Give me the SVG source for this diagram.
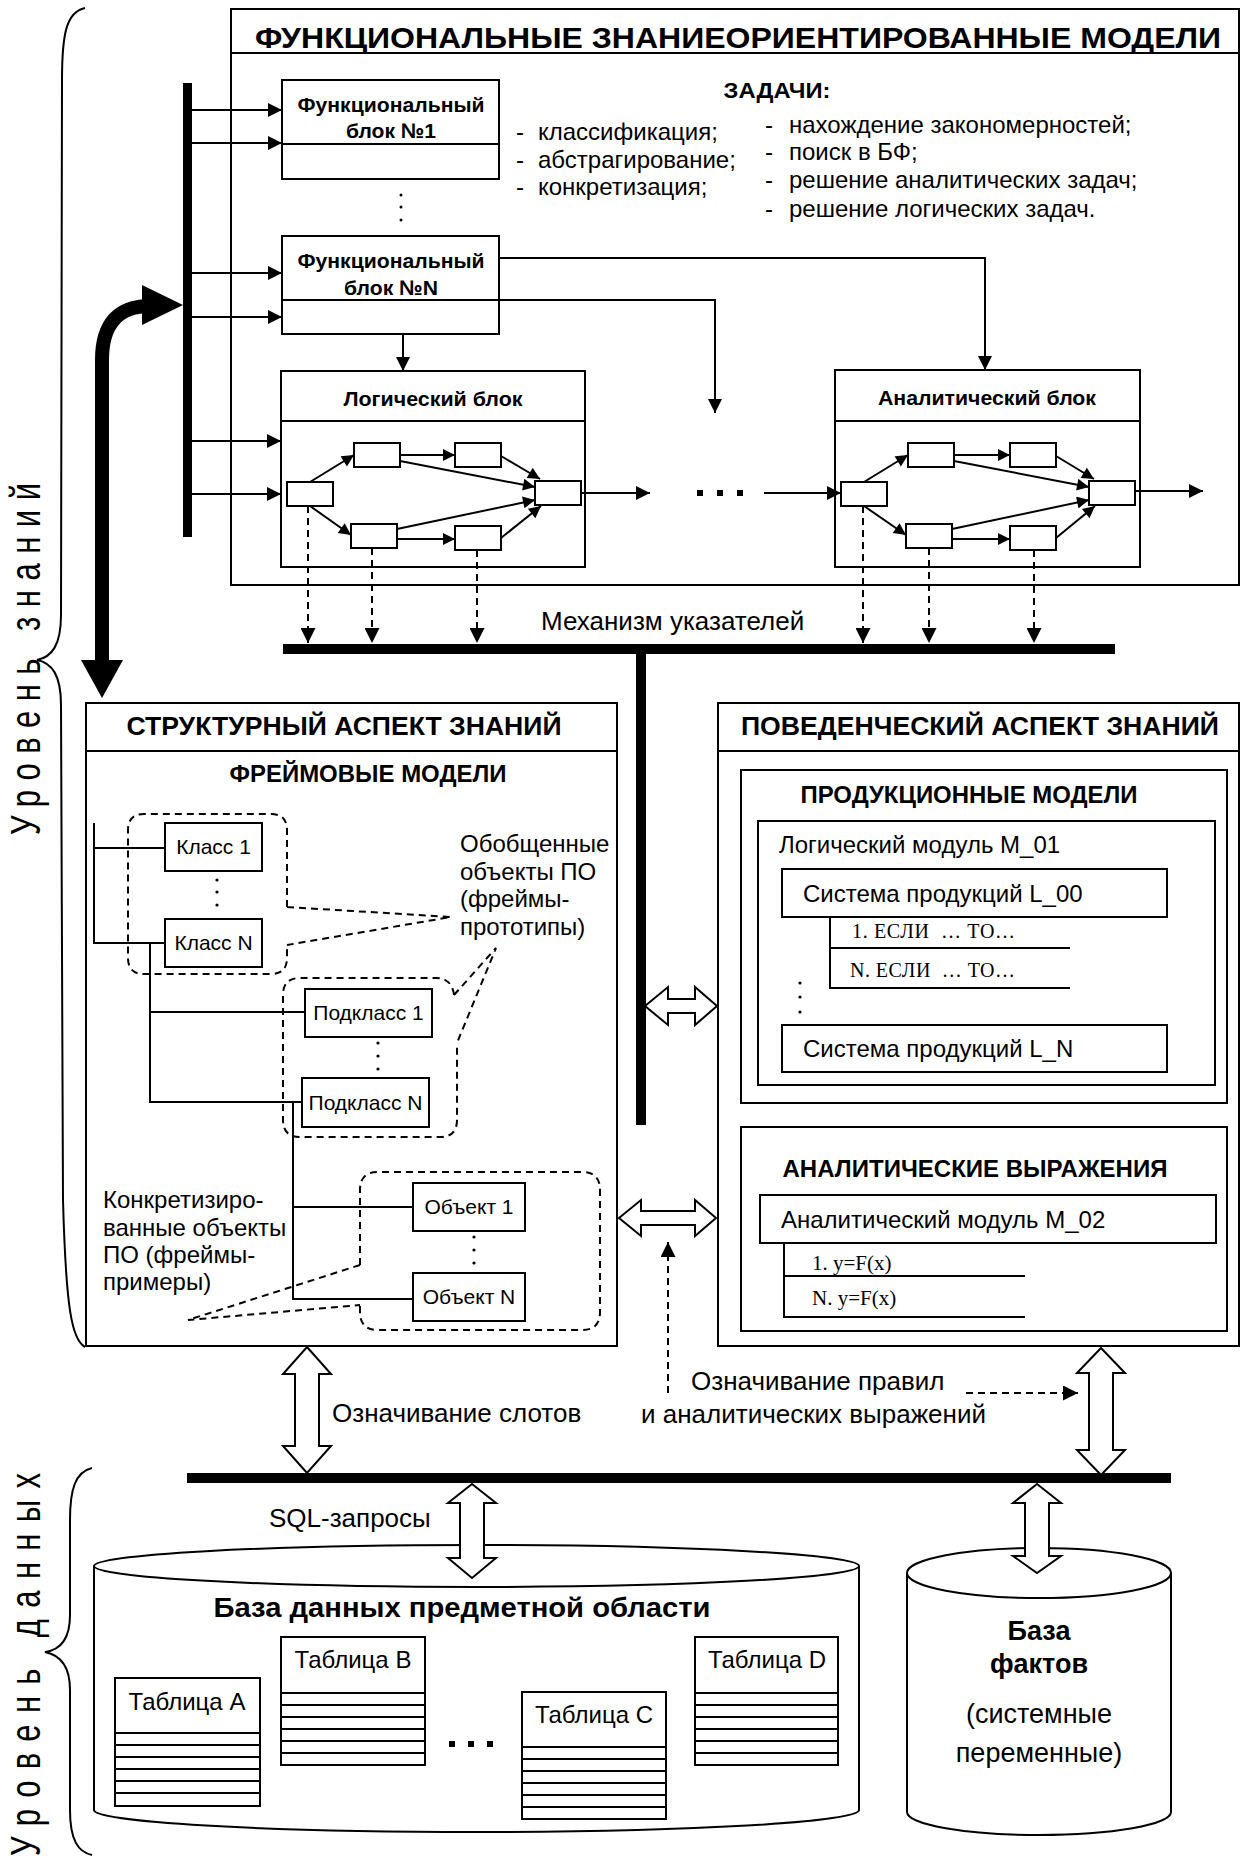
<svg xmlns="http://www.w3.org/2000/svg" width="1242" height="1860" viewBox="0 0 1242 1860">
<defs>
<style>
.b{fill:#fff;stroke:#000;stroke-width:2}
.l{fill:none;stroke:#000;stroke-width:2}
.d{fill:none;stroke:#000;stroke-width:2;stroke-dasharray:7 5}
.k{fill:#000}
.t{font-family:"Liberation Sans",Arial,sans-serif;fill:#000}
.bd{font-family:"Liberation Sans",Arial,sans-serif;font-weight:bold;fill:#000}
.s{font-family:"Liberation Serif","Times New Roman",serif;fill:#000}
.h{fill:#fff;stroke:#000;stroke-width:2;stroke-linejoin:miter}
.m{text-anchor:middle}
</style>
<marker id="ah" viewBox="0 0 10 10" refX="10" refY="5" markerWidth="17" markerHeight="14" markerUnits="userSpaceOnUse" orient="auto"><path d="M0,0 L10,5 L0,10 z" fill="#000"/></marker>
<marker id="as" viewBox="0 0 10 10" refX="10" refY="5" markerWidth="14" markerHeight="12" markerUnits="userSpaceOnUse" orient="auto"><path d="M0,0 L10,5 L0,10 z" fill="#000"/></marker>
<marker id="ad" viewBox="0 0 10 10" refX="10" refY="5" markerWidth="15" markerHeight="15" markerUnits="userSpaceOnUse" orient="auto"><path d="M0,0 L10,5 L0,10 z" fill="#000"/></marker>
</defs>
<rect width="1242" height="1860" fill="#fff"/>

<!-- side labels and braces -->
<g id="level-knowledge">
<path class="l" stroke-width="1.5" d="M85,8 C66,12 62,35 62,80 L61,615 C61,645 52,657 37,660 C52,663 61,675 61,705 L63,1200 C66,1310 72,1340 85,1347"/>
<text class="t" font-size="31" transform="translate(40,835) rotate(-90) scale(1,1.4)" textLength="352" lengthAdjust="spacing">Уровень знаний</text>
</g>
<g id="level-data">
<path class="l" stroke-width="1.5" d="M92,1468 C75,1472 70,1490 70,1520 L70,1615 C70,1640 60,1650 45,1652 C60,1655 70,1665 70,1690 L70,1810 C70,1840 78,1852 92,1855"/>
<text class="t" font-size="31" transform="translate(40,1856) rotate(-90) scale(1,1.4)" textLength="383" lengthAdjust="spacing">Уровень данных</text>
</g>

<!-- top functional models -->
<g id="functional-models">
<rect class="b" x="231" y="9" width="1008" height="576"/>
<line class="l" x1="231" y1="53" x2="1239" y2="53"/>
<text class="bd m" x="738" y="48" font-size="30" textLength="966" lengthAdjust="spacingAndGlyphs">ФУНКЦИОНАЛЬНЫЕ ЗНАНИЕОРИЕНТИРОВАННЫЕ МОДЕЛИ</text>
<text class="bd m" x="777" y="98" font-size="22" textLength="107" lengthAdjust="spacingAndGlyphs">ЗАДАЧИ:</text>
<g class="t" font-size="24">
<text x="516" y="140">-</text><text x="538" y="140">классификация;</text>
<text x="516" y="168">-</text><text x="538" y="168">абстрагирование;</text>
<text x="516" y="195">-</text><text x="538" y="195">конкретизация;</text>
<text x="765" y="133">-</text><text x="789" y="133">нахождение закономерностей;</text>
<text x="765" y="160">-</text><text x="789" y="160">поиск в БФ;</text>
<text x="765" y="188">-</text><text x="789" y="188">решение аналитических задач;</text>
<text x="765" y="217">-</text><text x="789" y="217">решение логических задач.</text>
</g>
</g>

<g id="bar" class="k"><rect x="183" y="83" width="9" height="454"/></g>

<g id="func-block-1">
<rect class="b" x="282" y="80" width="217" height="99"/>
<line class="l" x1="282" y1="144" x2="499" y2="144"/>
<text class="bd m" x="391" y="112" font-size="21" textLength="187" lengthAdjust="spacingAndGlyphs">Функциональный</text>
<text class="bd m" x="391" y="138" font-size="21" textLength="90" lengthAdjust="spacingAndGlyphs">блок №1</text>
</g>
<g id="func-dots" class="k"><circle cx="401" cy="195" r="1.5"/><circle cx="401" cy="207" r="1.5"/><circle cx="401" cy="220" r="1.5"/></g>
<g id="func-block-n">
<rect class="b" x="282" y="236" width="217" height="98"/>
<line class="l" x1="282" y1="300" x2="499" y2="300"/>
<text class="bd m" x="391" y="268" font-size="21" textLength="187" lengthAdjust="spacingAndGlyphs">Функциональный</text>
<text class="bd m" x="391" y="295" font-size="21" textLength="94" lengthAdjust="spacingAndGlyphs">блок №N</text>
</g>

<g id="logic-block">
<rect class="b" x="281" y="371" width="304" height="196"/>
<line class="l" x1="281" y1="421" x2="585" y2="421"/>
<text class="bd m" x="433" y="406" font-size="20" textLength="179" lengthAdjust="spacingAndGlyphs">Логический блок</text>
<g class="b">
<rect x="287" y="482" width="46" height="24"/>
<rect x="354" y="443" width="46" height="24"/>
<rect x="455" y="443" width="46" height="24"/>
<rect x="351" y="524" width="46" height="24"/>
<rect x="455" y="526" width="46" height="24"/>
<rect x="535" y="481" width="46" height="24"/>
</g>
<g class="l" marker-end="url(#as)">
<line x1="310" y1="482" x2="354" y2="455"/>
<line x1="310" y1="506" x2="351" y2="535"/>
<line x1="400" y1="455" x2="455" y2="455"/>
<line x1="397" y1="539" x2="455" y2="539"/>
<line x1="501" y1="456" x2="540" y2="479"/>
<line x1="400" y1="461" x2="535" y2="487"/>
<line x1="397" y1="529" x2="535" y2="500"/>
<line x1="501" y1="538" x2="541" y2="506"/>
</g>
</g>

<g id="analytic-block">
<rect class="b" x="835" y="370" width="305" height="197"/>
<line class="l" x1="835" y1="421" x2="1140" y2="421"/>
<text class="bd m" x="987" y="405" font-size="20" textLength="218" lengthAdjust="spacingAndGlyphs">Аналитический блок</text>
<g transform="translate(554,0)">
<g class="b">
<rect x="287" y="482" width="46" height="24"/>
<rect x="354" y="443" width="46" height="24"/>
<rect x="456" y="443" width="46" height="24"/>
<rect x="352" y="524" width="46" height="24"/>
<rect x="456" y="526" width="46" height="24"/>
<rect x="535" y="481" width="46" height="24"/>
</g>
<g class="l" marker-end="url(#as)">
<line x1="310" y1="482" x2="354" y2="455"/>
<line x1="310" y1="506" x2="352" y2="535"/>
<line x1="400" y1="455" x2="456" y2="455"/>
<line x1="398" y1="539" x2="456" y2="539"/>
<line x1="502" y1="456" x2="540" y2="479"/>
<line x1="400" y1="461" x2="535" y2="487"/>
<line x1="398" y1="529" x2="535" y2="500"/>
<line x1="502" y1="538" x2="541" y2="506"/>
</g>
</g>
</g>

<g id="ellipsis-mid" class="k"><rect x="697" y="490" width="6" height="6"/><rect x="717" y="490" width="6" height="6"/><rect x="737" y="490" width="6" height="6"/></g>

<!-- connectors -->
<g id="connectors">
<g class="l" marker-end="url(#ah)">
<line x1="192" y1="110" x2="282" y2="110"/>
<line x1="192" y1="143" x2="282" y2="143"/>
<line x1="192" y1="273" x2="282" y2="273"/>
<line x1="192" y1="317" x2="282" y2="317"/>
<line x1="192" y1="441" x2="281" y2="441"/>
<line x1="192" y1="494" x2="281" y2="494"/>
<path d="M499,258 H985 V370"/>
<path d="M499,300 H715 V413"/>
<line x1="403" y1="334" x2="403" y2="371"/>
<line x1="581" y1="493" x2="650" y2="493"/>
<line x1="764" y1="493" x2="841" y2="493"/>
<line x1="1135" y1="491" x2="1203" y2="491"/>
</g>
<g class="d" marker-end="url(#ad)">
<line x1="308" y1="506" x2="308" y2="643"/>
<line x1="372" y1="548" x2="372" y2="643"/>
<line x1="477" y1="550" x2="477" y2="643"/>
<line x1="863" y1="506" x2="863" y2="643"/>
<line x1="929" y1="548" x2="929" y2="643"/>
<line x1="1034" y1="550" x2="1034" y2="643"/>
<line x1="668" y1="1393" x2="668" y2="1242"/>
<line x1="966" y1="1393" x2="1078" y2="1393"/>
</g>
<path d="M102,662 V360 Q102,306 150,306" fill="none" stroke="#000" stroke-width="14"/>
<polygon class="k" points="142,285 183,305 142,325"/>
<polygon class="k" points="81,660 123,660 102,698"/>
<line x1="283" y1="649" x2="1115" y2="649" stroke="#000" stroke-width="10"/>
<line x1="641" y1="649" x2="641" y2="1125" stroke="#000" stroke-width="10"/>
<line x1="187" y1="1478" x2="1171" y2="1478" stroke="#000" stroke-width="10"/>
<polygon class="h" points="645,1006 668,987 668,999 695,999 695,987 717,1006 695,1025 695,1013 668,1013 668,1025"/>
<polygon class="h" points="619,1218 641,1200 641,1211 695,1211 695,1200 716,1218 695,1236 695,1225 641,1225 641,1236"/>
<polygon class="h" points="307,1347 331,1374 319,1374 319,1446 331,1446 307,1473 283,1446 295,1446 295,1374 283,1374"/>
<polygon class="h" points="1101,1348 1125,1373 1113,1373 1113,1450 1125,1450 1101,1475 1077,1450 1089,1450 1089,1373 1077,1373"/>
</g>
<text class="t" x="541" y="630" font-size="26">Механизм указателей</text>

<!-- structural aspect -->
<g id="structural-aspect">
<rect class="b" x="86" y="703" width="531" height="643"/>
<line class="l" x1="86" y1="751" x2="617" y2="751"/>
<text class="bd m" x="344" y="735" font-size="25" textLength="435" lengthAdjust="spacingAndGlyphs">СТРУКТУРНЫЙ АСПЕКТ ЗНАНИЙ</text>
<text class="bd m" x="368" y="782" font-size="24" textLength="277" lengthAdjust="spacingAndGlyphs">ФРЕЙМОВЫЕ МОДЕЛИ</text>
<g class="l">
<path d="M94,823 V943 H165 M94,848 H165"/>
<path d="M150,943 V1102 H302 M150,1012 H305"/>
<path d="M293,1102 V1299 H413 M293,1207 H413"/>
</g>
<g class="d">
<path d="M287,907 L287,830 Q287,814 271,814 L144,814 Q128,814 128,830 L128,958 Q128,974 144,974 L271,974 Q287,974 287,958 L287,945 M287,907 L451,917 L287,945"/>
<path d="M454,995 Q452,978 436,978 L300,978 Q283,978 283,995 L283,1120 Q283,1137 300,1137 L440,1137 Q457,1137 457,1120 L457,1043 M454,995 L496,948 L457,1043"/>
<path d="M360,1265 L360,1190 Q360,1172 378,1172 L582,1172 Q600,1172 600,1190 L600,1312 Q600,1330 582,1330 L378,1330 Q360,1330 360,1312 L360,1305 M360,1265 L188,1320 L360,1305"/>
</g>
<g class="k">
<circle cx="217" cy="880" r="1.6"/><circle cx="217" cy="892" r="1.6"/><circle cx="217" cy="905" r="1.6"/>
<circle cx="378" cy="1043" r="1.6"/><circle cx="378" cy="1056" r="1.6"/><circle cx="378" cy="1069" r="1.6"/>
<circle cx="474" cy="1237" r="1.6"/><circle cx="474" cy="1250" r="1.6"/><circle cx="474" cy="1263" r="1.6"/>
</g>
<g class="t" font-size="24">
<text x="460" y="852">Обобщенные</text>
<text x="460" y="880">объекты ПО</text>
<text x="460" y="907">(фреймы-</text>
<text x="460" y="935">прототипы)</text>
<text x="103" y="1208">Конкретизиро-</text>
<text x="103" y="1236">ванные объекты</text>
<text x="103" y="1263">ПО (фреймы-</text>
<text x="103" y="1290">примеры)</text>
</g>
</g>
<g id="class-1"><rect class="b" x="165" y="823" width="97" height="48"/><text class="t m" x="213.5" y="854" font-size="21">Класс 1</text></g>
<g id="class-n"><rect class="b" x="165" y="919" width="97" height="48"/><text class="t m" x="213.5" y="950" font-size="21">Класс N</text></g>
<g id="subclass-1"><rect class="b" x="305" y="989" width="127" height="48"/><text class="t m" x="368.5" y="1020" font-size="21">Подкласс 1</text></g>
<g id="subclass-n"><rect class="b" x="302" y="1078" width="127" height="49"/><text class="t m" x="365.5" y="1110" font-size="21">Подкласс N</text></g>
<g id="object-1"><rect class="b" x="413" y="1183" width="112" height="48"/><text class="t m" x="469" y="1214" font-size="21">Объект 1</text></g>
<g id="object-n"><rect class="b" x="413" y="1273" width="112" height="48"/><text class="t m" x="469" y="1304" font-size="21">Объект N</text></g>

<!-- behavioral aspect -->
<g id="behavioral-aspect">
<rect class="b" x="718" y="703" width="521" height="643"/>
<line class="l" x1="718" y1="751" x2="1239" y2="751"/>
<text class="bd m" x="980" y="735" font-size="25" textLength="478" lengthAdjust="spacingAndGlyphs">ПОВЕДЕНЧЕСКИЙ АСПЕКТ ЗНАНИЙ</text>
</g>
<g id="production-models">
<rect class="b" x="741" y="770" width="486" height="333"/>
<text class="bd m" x="969" y="803" font-size="23" textLength="337" lengthAdjust="spacingAndGlyphs">ПРОДУКЦИОННЫЕ МОДЕЛИ</text>
<rect class="b" x="758" y="821" width="457" height="264"/>
<text class="t" x="779" y="853" font-size="24">Логический модуль М_01</text>
<rect class="b" x="782" y="869" width="385" height="48"/>
<text class="t" x="803" y="902" font-size="24">Система продукций L_00</text>
<path class="l" d="M830,917 V988 H1070 M830,948 H1070"/>
<text class="s" x="852" y="938" font-size="20" textLength="163" lengthAdjust="spacing" xml:space="preserve">1. ЕСЛИ  … ТО…</text>
<text class="s" x="850" y="977" font-size="20" textLength="165" lengthAdjust="spacing" xml:space="preserve">N. ЕСЛИ  … ТО…</text>
<g class="k"><circle cx="800" cy="983" r="1.6"/><circle cx="800" cy="997" r="1.6"/><circle cx="800" cy="1012" r="1.6"/></g>
<rect class="b" x="782" y="1025" width="385" height="47"/>
<text class="t" x="803" y="1057" font-size="24">Система продукций L_N</text>
</g>
<g id="analytic-expressions">
<rect class="b" x="741" y="1127" width="486" height="204"/>
<text class="bd m" x="975" y="1177" font-size="23" textLength="385" lengthAdjust="spacingAndGlyphs">АНАЛИТИЧЕСКИЕ ВЫРАЖЕНИЯ</text>
<rect class="b" x="760" y="1195" width="456" height="48"/>
<text class="t" x="781" y="1228" font-size="24">Аналитический модуль М_02</text>
<path class="l" d="M784,1243 V1317 H1025 M784,1276 H1025"/>
<text class="s" x="812" y="1270" font-size="21">1. y=F(x)</text>
<text class="s" x="812" y="1305" font-size="21">N. y=F(x)</text>
</g>

<g id="labels" class="t" font-size="26">
<text x="332" y="1422">Означивание слотов</text>
<text x="691" y="1390">Означивание правил</text>
<text x="641" y="1423">и аналитических выражений</text>
<text x="269" y="1527">SQL-запросы</text>
</g>

<!-- databases -->
<g id="domain-db">
<path class="b" d="M94,1566 V1810 A382.5,22 0 0 0 859,1810 V1566"/>
<ellipse class="b" cx="476.5" cy="1566" rx="382.5" ry="21"/>
<text class="bd m" x="462" y="1617" font-size="27" textLength="497" lengthAdjust="spacingAndGlyphs">База данных предметной области</text>
</g>
<g id="table-a">
<rect class="b" x="115" y="1678" width="145" height="128"/>
<path class="l" d="M115,1733 H260 M115,1745 H260 M115,1757 H260 M115,1769 H260 M115,1781 H260 M115,1793 H260"/>
<text class="t m" x="187" y="1710" font-size="24">Таблица А</text>
</g>
<g id="table-b">
<rect class="b" x="281" y="1637" width="144" height="128"/>
<path class="l" d="M281,1693 H425 M281,1705 H425 M281,1717 H425 M281,1729 H425 M281,1741 H425 M281,1753 H425"/>
<text class="t m" x="353" y="1668" font-size="24">Таблица В</text>
</g>
<g id="ellipsis-db" class="k"><rect x="449" y="1741" width="6" height="6"/><rect x="468" y="1741" width="6" height="6"/><rect x="487" y="1741" width="6" height="6"/></g>
<g id="table-c">
<rect class="b" x="522" y="1692" width="144" height="127"/>
<path class="l" d="M522,1747 H666 M522,1759 H666 M522,1771 H666 M522,1783 H666 M522,1795 H666 M522,1807 H666"/>
<text class="t m" x="594" y="1723" font-size="24">Таблица С</text>
</g>
<g id="table-d">
<rect class="b" x="695" y="1637" width="143" height="128"/>
<path class="l" d="M695,1693 H838 M695,1705 H838 M695,1717 H838 M695,1729 H838 M695,1741 H838 M695,1753 H838"/>
<text class="t m" x="767" y="1668" font-size="24">Таблица D</text>
</g>
<g id="facts-db">
<path class="b" d="M907,1573 V1812 A132,23 0 0 0 1171,1812 V1573"/>
<ellipse class="b" cx="1039" cy="1573" rx="132" ry="25"/>
<text class="bd m" x="1039" y="1640" font-size="27">База</text>
<text class="bd m" x="1039" y="1673" font-size="27">фактов</text>
<text class="t m" x="1039" y="1723" font-size="27">(системные</text>
<text class="t m" x="1039" y="1762" font-size="27">переменные)</text>
</g>
<g id="db-arrows">
<polygon class="h" points="472,1484 496,1503 484,1503 484,1558 496,1558 472,1578 448,1558 460,1558 460,1503 448,1503"/>
<polygon class="h" points="1037,1484 1061,1503 1049,1503 1049,1556 1061,1556 1037,1573 1013,1556 1025,1556 1025,1503 1013,1503"/>
</g>
</svg>
